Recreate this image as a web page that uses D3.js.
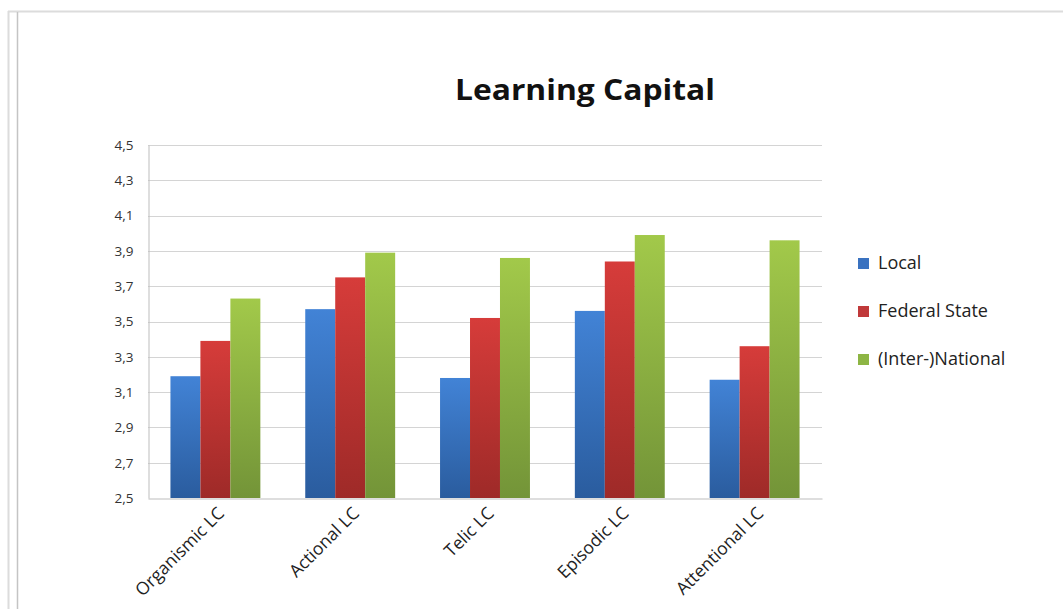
<!DOCTYPE html>
<html>
<head>
<meta charset="utf-8">
<script src="https://cdn.jsdelivr.net/npm/d3@7"></script>
<style>
  html, body { margin: 0; padding: 0; background: #fff; }
  svg { display: block; font-family: "Open Sans", Lato, sans-serif; }
</style>
</head>
<body>
<svg id="chart" width="1063" height="609"></svg>
<script>
const title = "Learning Capital";
const categories = ["Organismic LC", "Actional LC", "Telic LC", "Episodic LC", "Attentional LC"];
const seriesNames = ["Local", "Federal State", "(Inter-)National"];
const localValues = [3.19, 3.57, 3.18, 3.56, 3.17];
const federalValues = [3.39, 3.75, 3.52, 3.84, 3.36];
const nationalValues = [3.63, 3.89, 3.86, 3.99, 3.96];
const yTicks = [2.5, 2.7, 2.9, 3.1, 3.3, 3.5, 3.7, 3.9, 4.1, 4.3, 4.5];

const series = [localValues, federalValues, nationalValues];
const colors = [
  { top: "#4283d6", bottom: "#2a5c9e", solid: "#3a72c0" },
  { top: "#d63c3a", bottom: "#9e2a28", solid: "#c0393a" },
  { top: "#a2c94a", bottom: "#739438", solid: "#8db544" }
];

const svg = d3.select("#chart");

// frame
svg.append("line").attr("x1", 8).attr("x2", 1063).attr("y1", 11.5).attr("y2", 11.5)
  .attr("stroke", "#dcdcdc").attr("stroke-width", 2);
svg.append("line").attr("x1", 8.5).attr("x2", 8.5).attr("y1", 11).attr("y2", 609)
  .attr("stroke", "#dcdcdc").attr("stroke-width", 2);
svg.append("line").attr("x1", 17.5).attr("x2", 17.5).attr("y1", 12).attr("y2", 609)
  .attr("stroke", "#c4c4c4").attr("stroke-width", 1.5);

const margin = { left: 148, right: 822, top: 145, bottom: 498 };

const x = d3.scaleBand().domain(categories).range([margin.left, margin.right]).paddingInner(0.333).paddingOuter(0.1665);
const xs = d3.scaleBand().domain(d3.range(series.length)).range([0, x.bandwidth()]);
const y = d3.scaleLinear().domain([2.5, 4.5]).range([margin.bottom, margin.top]);

// gradients
const defs = svg.append("defs");
colors.forEach((c, i) => {
  const g = defs.append("linearGradient").attr("id", "grad" + i)
    .attr("x1", 0).attr("x2", 0).attr("y1", 0).attr("y2", 1)
    .attr("gradientUnits", "objectBoundingBox");
  g.append("stop").attr("offset", "0%").attr("stop-color", c.top);
  g.append("stop").attr("offset", "100%").attr("stop-color", c.bottom);
});

// gridlines
svg.append("g")
  .selectAll("line").data(yTicks.slice(1)).join("line")
  .attr("x1", margin.left).attr("x2", margin.right)
  .attr("y1", d => Math.round(y(d)) + 0.5).attr("y2", d => Math.round(y(d)) + 0.5)
  .attr("stroke", "#d4d4d4").attr("stroke-width", 1);

// y axis
const yAxis = svg.append("g").attr("transform", `translate(${margin.left + 0.5},0)`)
  .call(d3.axisLeft(y).tickValues(yTicks).tickSize(0).tickPadding(15)
    .tickFormat(d => d3.format(".1f")(d).replace(".", ",")));
yAxis.select(".domain").attr("stroke", "#bdbdbd");
yAxis.selectAll("text").attr("font-size", 13.5).attr("fill", "#333")
  .attr("font-family", "'Open Sans', Lato, sans-serif");

// bars
const groups = svg.append("g").selectAll("g").data(categories).join("g")
  .attr("transform", d => `translate(${x(d)},0)`);
groups.selectAll("rect")
  .data((d, ci) => series.map((s, si) => ({ si, v: s[ci] })))
  .join("rect")
  .attr("x", d => xs(d.si))
  .attr("width", xs.bandwidth())
  .attr("y", d => y(d.v))
  .attr("height", d => y(2.5) - y(d.v))
  .attr("fill", d => `url(#grad${d.si})`);

// x axis
const xAxis = svg.append("g").attr("transform", `translate(0,${margin.bottom + 0.5})`)
  .call(d3.axisBottom(x).tickSize(0).tickPadding(0));
xAxis.select(".domain").attr("stroke", "#bdbdbd");
xAxis.selectAll("text")
  .attr("font-size", 17.5).attr("fill", "#222")
  .attr("font-family", "'Open Sans', Lato, sans-serif")
  .attr("text-anchor", "end")
  .attr("dy", 0)
  .attr("transform", "translate(10,16) rotate(-45)");

// title
svg.append("text").attr("x", 585).attr("y", 100).attr("text-anchor", "middle")
  .attr("font-size", 28).attr("font-weight", "bold").attr("fill", "#111")
  .attr("textLength", 260).attr("lengthAdjust", "spacingAndGlyphs").text(title);

// legend
const legend = svg.append("g").selectAll("g").data(seriesNames).join("g")
  .attr("transform", (d, i) => `translate(858,${263 + i * 48})`);
legend.append("rect").attr("x", 0).attr("y", -5).attr("width", 11).attr("height", 11)
  .attr("fill", (d, i) => colors[i].solid);
legend.append("text").attr("x", 20).attr("y", 0).attr("dy", "0.35em")
  .attr("font-size", 18).attr("fill", "#222").text(d => d);
</script>
</body>
</html>
